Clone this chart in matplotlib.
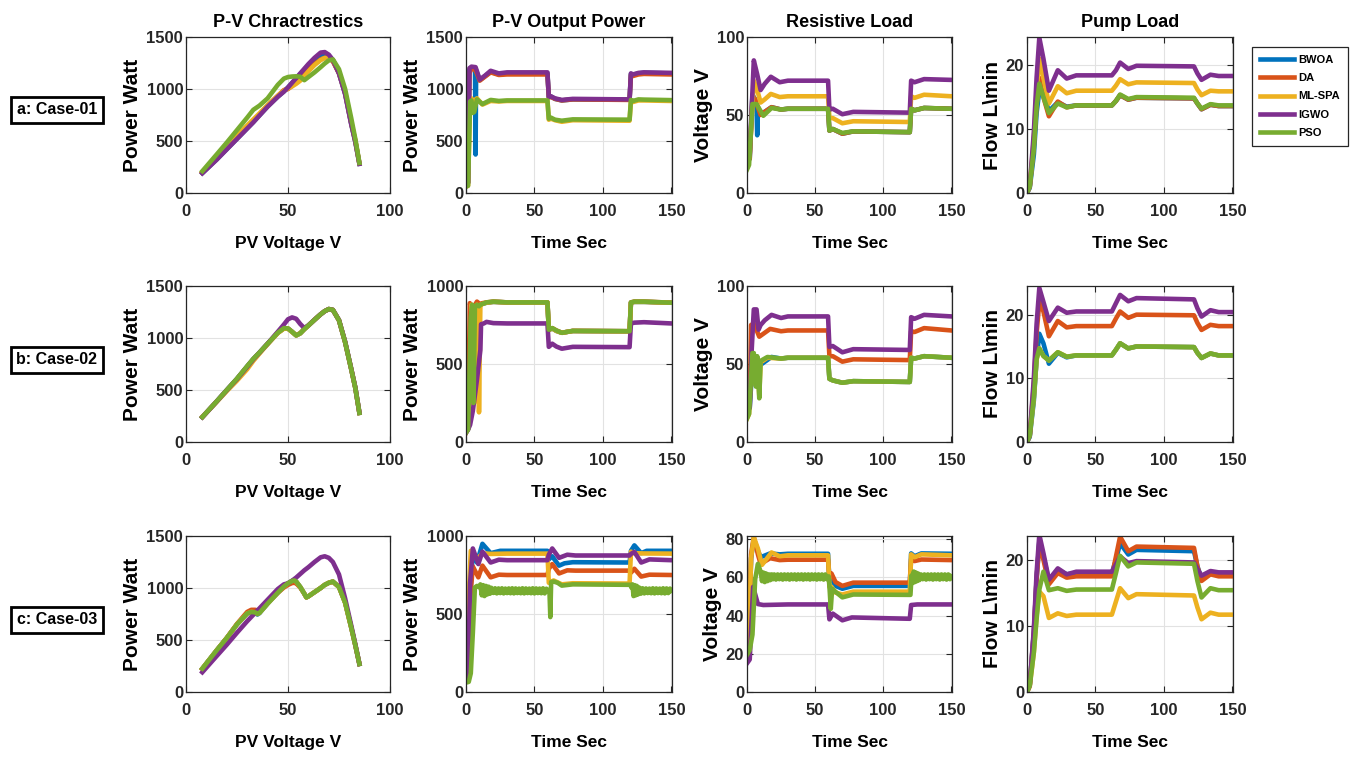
import matplotlib.pyplot as plt

plt.rcParams['font.family'] = ['Liberation Sans', 'DejaVu Sans']
plt.rcParams['font.weight'] = 'bold'
plt.rcParams['axes.labelweight'] = 'bold'
plt.rcParams['axes.titleweight'] = 'bold'

algos = ['BWOA', 'DA', 'ML-SPA', 'IGWO', 'PSO']
colors = ['#0072BD', '#D95319', '#EDB120', '#7E2F8E', '#77AC30']
cases = ['a: Case-01', 'b: Case-02', 'c: Case-03']
titles = ['P-V Chractrestics', 'P-V Output Power', 'Resistive Load', 'Pump Load']
ylabels = ['Power Watt', 'Power Watt', 'Voltage V', 'Flow L\\min']

# ---------------- P-V characteristics (voltage V -> power W) ----------------
pv1_v = [8, 15, 20, 25, 30, 33, 36, 40, 45, 48, 50, 52, 54, 56, 58, 60, 63, 66, 68, 70, 72, 75, 78, 81, 83, 85]
pv1 = {
    'BWOA':   [192, 322, 422, 522, 622, 682, 747, 832, 927, 977, 1015, 1058, 1100, 1143, 1185, 1228, 1285, 1330, 1340, 1322, 1275, 1150, 955, 665, 495, 282],
    'DA':     [195, 330, 430, 530, 630, 690, 755, 840, 935, 990, 1000, 1030, 1065, 1105, 1145, 1185, 1240, 1285, 1300, 1298, 1265, 1150, 960, 670, 500, 285],
    'ML-SPA': [200, 345, 445, 548, 650, 708, 765, 845, 935, 985, 1005, 1025, 1050, 1080, 1125, 1170, 1230, 1278, 1298, 1305, 1280, 1165, 970, 680, 505, 285],
    'IGWO':   [190, 320, 420, 520, 620, 680, 745, 830, 925, 975, 1015, 1060, 1105, 1150, 1195, 1240, 1300, 1350, 1355, 1330, 1280, 1150, 950, 660, 490, 280],
    'PSO':    [210, 370, 485, 605, 725, 800, 840, 910, 1040, 1100, 1115, 1120, 1122, 1118, 1085, 1115, 1160, 1210, 1245, 1275, 1285, 1190, 1000, 720, 520, 290],
}
pv2_v = [8, 15, 20, 25, 30, 33, 36, 40, 45, 48, 50, 52, 54, 56, 58, 60, 63, 66, 68, 70, 72, 75, 78, 81, 83, 85]
pv2 = {
    'BWOA':   [240, 390, 500, 608, 728, 798, 860, 945, 1050, 1094, 1091, 1060, 1025, 1045, 1085, 1120, 1175, 1228, 1258, 1278, 1270, 1170, 960, 700, 520, 280],
    'DA':     [240, 389, 498, 606, 725, 795, 858, 944, 1050, 1093, 1090, 1060, 1026, 1046, 1086, 1120, 1175, 1228, 1258, 1278, 1270, 1170, 960, 700, 520, 280],
    'ML-SPA': [240, 385, 490, 590, 700, 780, 850, 940, 1048, 1090, 1090, 1058, 1025, 1045, 1085, 1120, 1175, 1228, 1258, 1278, 1270, 1170, 960, 700, 520, 280],
    'IGWO':   [238, 388, 498, 605, 722, 795, 858, 945, 1060, 1130, 1180, 1198, 1185, 1135, 1095, 1122, 1176, 1228, 1258, 1278, 1270, 1172, 965, 705, 525, 282],
    'PSO':    [240, 390, 500, 610, 730, 800, 860, 945, 1050, 1095, 1092, 1060, 1025, 1045, 1085, 1120, 1175, 1228, 1258, 1278, 1270, 1170, 960, 700, 520, 280],
}
pv3_v = [8, 15, 20, 25, 30, 32, 34, 35, 36, 40, 45, 48, 50, 52, 53, 54, 56, 58, 59, 60, 63, 66, 68, 70, 72, 75, 78, 81, 83, 85]
pv3 = {
    'BWOA':   [225, 400, 520, 650, 755, 770, 760, 745, 758, 850, 955, 1015, 1045, 1068, 1073, 1062, 1010, 945, 910, 920, 960, 1000, 1030, 1050, 1062, 1010, 860, 620, 450, 270],
    'DA':     [222, 398, 520, 655, 770, 790, 790, 780, 783, 860, 955, 1005, 1030, 1048, 1050, 1045, 1005, 945, 910, 920, 960, 1000, 1030, 1050, 1060, 1010, 860, 620, 450, 270],
    'ML-SPA': [225, 400, 520, 650, 755, 770, 765, 750, 760, 850, 955, 1015, 1045, 1068, 1073, 1062, 1010, 945, 910, 920, 960, 1000, 1030, 1050, 1062, 1010, 860, 620, 450, 270],
    'IGWO':   [190, 345, 455, 570, 681, 722, 763, 784, 804, 887, 990, 1035, 1045, 1070, 1085, 1100, 1135, 1170, 1185, 1200, 1250, 1295, 1305, 1290, 1250, 1130, 900, 640, 460, 270],
    'PSO':    [225, 400, 520, 650, 755, 770, 765, 750, 760, 850, 955, 1015, 1045, 1068, 1073, 1062, 1010, 945, 910, 920, 960, 1000, 1030, 1050, 1062, 1010, 860, 620, 450, 270],
}

# ---------------- PV output power (time s, power W) ----------------
pout1 = {
    'BWOA': ([0, 1.5, 2.5, 4, 6.6, 7, 7.4, 10, 14, 18, 24, 30, 59.5, 60.5, 62, 65, 70, 78, 119.5, 120.5, 122, 126, 130, 150],
             [80, 100, 1180, 1200, 1190, 370, 1180, 1085, 1125, 1165, 1140, 1150, 1150, 920, 928, 905, 890, 900, 897, 1145, 1135, 1150, 1155, 1150]),
    'DA': ([0, 1.5, 2.5, 4, 7, 10, 14, 18, 24, 30, 59.5, 60.5, 62, 65, 70, 78, 119.5, 120.5, 122, 126, 130, 150],
           [80, 100, 1150, 1200, 1180, 1080, 1120, 1160, 1135, 1140, 1140, 920, 925, 905, 890, 900, 895, 1135, 1125, 1140, 1145, 1140]),
    'ML-SPA': ([0, 1.5, 3, 4, 5, 6, 8, 12, 18, 24, 30, 59.5, 60.5, 62, 65, 70, 78, 119.5, 120.5, 122, 126, 130, 150],
               [60, 70, 900, 910, 880, 890, 910, 850, 885, 880, 885, 885, 705, 715, 700, 685, 700, 695, 885, 875, 890, 890, 885]),
    'IGWO': ([0, 1.5, 2.5, 4, 7, 10, 14, 18, 24, 30, 59.5, 60.5, 62, 65, 70, 78, 119.5, 120.5, 122, 126, 130, 150],
             [80, 100, 1200, 1215, 1210, 1090, 1130, 1175, 1150, 1160, 1160, 925, 930, 910, 895, 905, 900, 1150, 1140, 1155, 1160, 1155]),
    'PSO': ([0, 1.5, 3, 4, 5, 6, 8, 12, 18, 24, 30, 59.5, 60.5, 62, 65, 70, 78, 119.5, 120.5, 122, 126, 130, 150],
            [60, 70, 880, 890, 770, 780, 900, 855, 895, 885, 890, 890, 715, 725, 705, 695, 708, 705, 895, 885, 900, 898, 893]),
}
pout2 = {
    'BWOA': ([0, 1.5, 3.5, 4.5, 5.5, 6.5, 8, 10, 12, 15, 20, 30, 59.5, 60.5, 63, 66, 70, 78, 119.5, 120.5, 123, 130, 150],
             [60, 80, 780, 870, 300, 850, 880, 880, 885, 893, 898, 895, 895, 718, 728, 712, 700, 712, 710, 893, 898, 898, 893]),
    'DA': ([0, 1.5, 2.8, 3.2, 4.5, 6, 8, 10, 12, 15, 20, 30, 59.5, 60.5, 63, 66, 70, 78, 119.5, 120.5, 123, 130, 150],
           [60, 100, 890, 880, 300, 870, 900, 885, 890, 895, 900, 895, 895, 720, 730, 715, 700, 712, 710, 895, 900, 900, 893]),
    'ML-SPA': ([0, 1.5, 3, 4, 5, 6, 7, 8, 9, 9.5, 10.5, 12, 15, 20, 30, 59.5, 60.5, 63, 66, 70, 78, 119.5, 120.5, 123, 130, 150],
               [60, 80, 300, 880, 860, 250, 870, 880, 760, 190, 880, 885, 893, 898, 895, 895, 718, 728, 712, 700, 712, 710, 893, 898, 898, 893]),
    'IGWO': ([0, 1.5, 3, 5, 8, 10.5, 11, 13, 15, 20, 30, 59.5, 60.5, 63, 66, 70, 78, 119.5, 120.5, 123, 130, 150],
             [60, 80, 110, 200, 400, 590, 755, 760, 770, 762, 760, 760, 610, 630, 612, 598, 610, 608, 760, 765, 768, 760]),
    'PSO': ([0, 1.5, 3.5, 4.5, 5.5, 6.5, 8, 9.5, 10.5, 12, 15, 20, 30, 59.5, 60.5, 63, 66, 70, 78, 119.5, 120.5, 123, 130, 150],
            [60, 80, 800, 880, 250, 860, 880, 870, 880, 885, 895, 900, 895, 895, 720, 730, 715, 700, 712, 710, 895, 900, 900, 893]),
}
pout3 = {
    'BWOA': ([0, 1.5, 3, 5, 8, 12, 15, 18, 25, 30, 59.5, 60.5, 63, 65, 68, 72, 78, 119.5, 120.5, 123, 126, 128, 132, 150],
             [80, 100, 600, 900, 830, 950, 920, 890, 905, 905, 905, 850, 870, 845, 810, 825, 832, 830, 905, 940, 910, 890, 905, 905]),
    'DA': ([0, 1.5, 3, 5, 9, 12, 18, 24, 30, 59.5, 60.5, 63, 68, 74, 80, 119.5, 120.5, 123, 128, 134, 150],
           [80, 100, 600, 805, 735, 810, 735, 752, 750, 750, 790, 820, 760, 780, 778, 778, 765, 790, 740, 752, 750]),
    'ML-SPA': ([0, 1.5, 2.5, 3.5, 5, 8, 12, 18, 30, 59.5, 60.5, 64, 70, 78, 119.5, 120.5, 122, 130, 150],
               [70, 90, 700, 905, 900, 850, 890, 885, 887, 887, 700, 715, 690, 697, 695, 900, 890, 888, 887]),
    'IGWO': ([0, 1.5, 3, 5, 9, 12, 18, 24, 30, 59.5, 60.5, 63, 68, 74, 80, 119.5, 120.5, 123, 128, 134, 150],
             [80, 100, 700, 920, 820, 900, 830, 848, 845, 845, 880, 920, 860, 880, 875, 875, 885, 898, 830, 850, 845]),
    'PSO': ([0, 2, 3.5, 5, 6.5, 8, 9.5, 10.5, 11.5, 12.5, 13.5, 14.5, 15.5, 16.5, 17.5, 18.5, 20,
             21.25, 22.5, 23.75, 25, 26.25, 27.5, 28.75, 30, 31.25, 32.5, 33.75, 35, 36.25, 37.5, 38.75, 40,
             41.25, 42.5, 43.75, 45, 46.25, 47.5, 48.75, 50, 51.25, 52.5, 53.75, 55, 56.25, 57.5, 58.75, 60,
             61, 61.6, 62.2, 64, 67, 70, 78, 120,
             120.8, 121.6, 122.4, 123.2, 124, 124.8, 125.6, 126.5,
             127.75, 129, 130.25, 131.5, 132.75, 134, 135.25, 136.5, 137.75, 139, 140.25, 141.5, 142.75, 144,
             145.25, 146.5, 147.75, 149, 150],
            [60, 65, 120, 380, 670, 680, 672, 690, 620, 685, 615, 680, 625, 675, 630, 668, 635,
             665, 632, 664, 634, 665, 632, 663, 634, 664, 633, 665, 632, 664, 634, 663, 633,
             665, 632, 664, 634, 663, 633, 665, 632, 664, 634, 663, 633, 665, 632, 662, 650,
             640, 480, 705, 708, 700, 682, 690, 687,
             670, 690, 615, 685, 620, 680, 625, 670,
             630, 665, 632, 664, 634, 663, 633, 665, 632, 664, 634, 663, 633, 665,
             632, 664, 634, 663, 650]),
}

# ---------------- resistive load voltage (time s, V) ----------------
vres1 = {
    'BWOA': ([0, 2, 4, 6, 7, 7.5, 8, 9, 13, 18, 25, 30, 59.5, 60.5, 63, 70, 78, 119.5, 120.5, 123, 130, 150],
             [20, 22, 63, 60, 55, 37, 55, 51, 52, 55, 53.5, 54, 54, 40, 41, 38, 39.5, 39, 54, 53, 54.5, 54]),
    'DA': ([0, 2, 4, 6, 10, 13, 18, 25, 30, 59.5, 60.5, 63, 70, 78, 119.5, 120.5, 123, 130, 150],
           [20, 22, 62, 60, 50, 52, 55, 53.5, 54, 54, 40, 41, 38, 39.5, 39, 54, 53, 54.5, 54]),
    'ML-SPA': ([0, 2, 5, 7.5, 10, 13, 17.5, 24, 30, 59.5, 60.5, 63, 70, 78, 119.5, 120.5, 123, 130, 150],
               [20, 25, 72, 66, 58, 60, 63.5, 61.5, 62, 62, 48, 48, 44.7, 46, 45.5, 62, 61, 63, 62]),
    'IGWO': ([0, 2, 5, 7.5, 10, 13, 17.5, 24, 30, 59.5, 60.5, 63, 70, 78, 119.5, 120.5, 123, 130, 150],
             [20, 25, 85, 76, 66, 70, 74.5, 71, 72, 72, 53.5, 54, 50.5, 52, 51.5, 72, 71, 73, 72.5]),
    'PSO': ([0, 1.5, 4, 7, 12, 18, 25, 30, 59.5, 60.5, 63, 70, 78, 119.5, 120.5, 123, 130, 150],
            [15, 18, 57, 57, 49.5, 54.5, 53.5, 54, 54, 40, 41, 38.5, 39.5, 39, 54, 53, 54.5, 54]),
}
vres2 = {
    'BWOA': ([0, 2, 4, 6, 10, 14, 18, 25, 30, 59.5, 60.5, 63, 70, 78, 119.5, 120.5, 123, 130, 150],
             [20, 22, 50, 55, 49.5, 52, 54.5, 53.5, 54, 54, 40.5, 39.5, 38, 39, 38.5, 54, 53.5, 55, 54]),
    'DA': ([0, 2, 3, 5, 9, 17, 25, 30, 59.5, 60.5, 63, 70, 78, 119.5, 120.5, 123, 130, 150],
           [20, 22, 75, 76, 67.5, 72.5, 71, 71.5, 71.5, 55, 55, 51.5, 53, 52.5, 71, 70.5, 73, 71.5]),
    'ML-SPA': ([0, 1.5, 3.5, 5, 6.5, 7.5, 9, 10, 15, 25, 30, 59.5, 60.5, 63, 70, 78, 119.5, 120.5, 123, 130, 150],
               [15, 18, 55, 56, 37, 54, 30, 51, 54, 53.5, 54, 54, 40.5, 39.5, 38, 39, 38.5, 54, 53.5, 55, 54]),
    'IGWO': ([0, 2, 3.5, 5, 7, 8.5, 10, 13, 18, 25, 30, 59.5, 60.5, 63, 70, 78, 119.5, 120.5, 123, 130, 150],
             [20, 22, 60, 85, 85, 72, 75, 78, 81.5, 79.5, 80.5, 80.5, 61, 61.5, 57.5, 59.5, 59, 80, 79, 81.5, 80.5]),
    'PSO': ([0, 1.5, 4, 5, 6.5, 7.5, 9, 10, 15, 25, 30, 59.5, 60.5, 63, 70, 78, 119.5, 120.5, 123, 130, 150],
            [15, 18, 57, 57, 35.5, 55, 28, 52, 54.5, 53.5, 54, 54, 40.5, 39.5, 38, 39, 38.5, 54, 53.5, 55, 54]),
}
vres3 = {
    'BWOA': ([0, 1.5, 3, 5, 8, 10, 17, 24, 30, 59.5, 60.5, 62, 65, 70, 78, 119.5, 120.5, 123, 128, 150],
             [20, 30, 70, 80, 74, 70.5, 72.5, 72, 72.3, 72.3, 58, 59, 55.5, 54, 55.5, 55.5, 72.5, 71, 72.5, 72.3]),
    'DA': ([0, 1.5, 3, 5, 8, 10, 17, 24, 30, 59.5, 60.5, 62, 65, 70, 78, 119.5, 120.5, 123, 128, 150],
           [20, 30, 72, 81, 72, 67, 70, 69, 69.2, 69.2, 60, 62, 57.5, 55.5, 57.2, 57.2, 69.5, 68.5, 69.3, 69]),
    'ML-SPA': ([0, 1.5, 3, 5, 8, 11, 18, 24, 30, 59.5, 60.5, 62, 65, 70, 78, 119.5, 120.5, 123, 128, 150],
               [25, 30, 70, 81, 75, 66.5, 73, 71, 71.5, 71.5, 55, 55, 52, 51, 52.5, 52.5, 72, 70.5, 72, 71.5]),
    'IGWO': ([0, 2, 4.5, 8, 12, 30, 59.5, 60.5, 63, 70, 77, 119.5, 120.5, 125, 150],
             [15, 17, 55, 46, 45.5, 45.8, 45.8, 38, 41, 37.5, 39, 38.3, 45.5, 45.8, 45.8]),
    'PSO': ([0, 2, 4, 6, 8, 10, 11, 12, 13, 14, 15, 16, 17, 18, 19, 20,
             21.25, 22.5, 23.75, 25, 26.25, 27.5, 28.75, 30, 31.25, 32.5, 33.75, 35, 36.25, 37.5, 38.75, 40,
             41.25, 42.5, 43.75, 45, 46.25, 47.5, 48.75, 50, 51.25, 52.5, 53.75, 55, 56.25, 57.5, 58.75, 60,
             60.8, 61.5, 62.5, 64, 70, 78, 120,
             120.8, 121.6, 122.4, 123.2, 124, 124.8, 125.6, 126.5,
             127.75, 129, 130.25, 131.5, 132.75, 134, 135.25, 136.5, 137.75, 139, 140.25, 141.5, 142.75, 144,
             145.25, 146.5, 147.75, 149, 150],
            [19.5, 22, 30, 59, 67, 63, 58, 62.5, 57.5, 62, 58, 61.5, 58.5, 61.5, 59, 61.5,
             58.8, 61.5, 59, 61.5, 58.8, 61.5, 59, 61.5, 58.8, 61.5, 59, 61.5, 58.8, 61.5, 59, 61.5,
             58.8, 61.5, 59, 61.5, 58.8, 61.5, 59, 61.5, 58.8, 61.5, 59, 61.5, 58.8, 61.5, 59, 60.5,
             52, 43.5, 54, 53, 49.5, 51, 50.8,
             61, 57, 63, 57.5, 62.5, 58, 62, 58.5,
             61.5, 59, 61.5, 58.8, 61.5, 59, 61.5, 58.8, 61.5, 59, 61.5, 58.8, 61.5, 59,
             61.5, 58.8, 61.5, 59, 60.5]),
}

# ---------------- pump load flow (time s, L/min) ----------------
flow_t = [0, 2, 5, 7, 9, 12, 16, 22.5, 29, 36, 62, 65, 68, 74, 80, 122, 124.5, 127.5, 134, 140, 150]
flow1 = {
    'BWOA':   [0, 0.8, 6, 12.5, 16, 15.5, 12.8, 14.2, 13.5, 13.7, 13.7, 14.4, 15.3, 14.6, 14.9, 14.8, 14, 13.1, 13.8, 13.6, 13.6],
    'DA':     [0, 1, 7.5, 14, 18, 15, 12, 14.3, 13.4, 13.7, 13.7, 14.4, 15.3, 14.6, 14.9, 14.8, 14, 13.1, 13.8, 13.6, 13.6],
    'ML-SPA': [0, 1, 8.5, 16, 21, 18, 14, 16.7, 15.6, 16, 16, 16.8, 17.8, 17, 17.3, 17.2, 16.2, 15.3, 16, 15.9, 15.9],
    'IGWO':   [0, 1, 9.5, 18, 24.3, 21, 16, 19.2, 17.9, 18.4, 18.4, 19.2, 20.4, 19.4, 19.9, 19.8, 18.7, 17.7, 18.5, 18.3, 18.3],
    'PSO':    [0, 1, 7, 13.5, 17.1, 15, 12.5, 14, 13.4, 13.7, 13.7, 14.4, 15.4, 14.7, 15, 14.9, 14, 13.2, 13.9, 13.7, 13.7],
}
flow2 = {
    'BWOA':   [0, 0.8, 6.5, 13, 17, 15.5, 12.3, 14, 13.3, 13.6, 13.6, 14.5, 15.5, 14.7, 15, 14.9, 14, 13.2, 13.9, 13.6, 13.6],
    'DA':     [0, 1, 9, 17, 22, 20.5, 16.6, 19, 18, 18.2, 18.2, 19.4, 20.5, 19.5, 20, 19.9, 18.7, 17.6, 18.4, 18.2, 18.2],
    'ML-SPA': [0, 1, 7, 13, 14.7, 13.5, 12.8, 14.1, 13.4, 13.6, 13.6, 14.5, 15.5, 14.7, 15, 14.9, 14, 13.2, 13.9, 13.6, 13.6],
    'IGWO':   [0, 1, 10, 18.5, 24.2, 22, 19, 21.1, 20.3, 20.5, 20.5, 21.8, 23.1, 22.1, 22.6, 22.4, 21, 19.7, 20.7, 20.4, 20.4],
    'PSO':    [0, 1, 7, 13, 14.7, 13.5, 12.8, 14.1, 13.4, 13.6, 13.6, 14.5, 15.5, 14.7, 15, 14.9, 14, 13.2, 13.9, 13.6, 13.6],
}
flow3 = {
    'BWOA':   [0, 1, 9, 17, 22.8, 20.5, 16.8, 18.5, 17.8, 18, 18, 20, 22.5, 20.8, 21.5, 21.3, 19, 17.2, 18, 17.9, 17.9],
    'DA':     [0, 1, 9, 17, 22.5, 20, 16.3, 18, 17.3, 17.5, 17.5, 20.5, 23.5, 21.3, 22, 21.8, 19, 16.8, 17.8, 17.5, 17.5],
    'ML-SPA': [0, 0.8, 6, 11.5, 15.2, 14.5, 11.2, 11.9, 11.5, 11.7, 11.7, 13.7, 15.7, 14.2, 14.8, 14.6, 12.8, 11, 12, 11.7, 11.7],
    'IGWO':   [0, 1, 9.5, 18, 23.8, 21, 17, 18.7, 17.8, 18.2, 18.2, 19.3, 20.5, 19.5, 19.8, 19.6, 18.6, 17.6, 18.3, 18.1, 18.1],
    'PSO':    [0, 1, 6, 11, 15.5, 18.2, 15.4, 15.7, 15.3, 15.5, 15.5, 18, 20.6, 19, 19.6, 19.4, 16.8, 14.3, 15.7, 15.4, 15.4],
}

pv_sets = [(pv1_v, pv1), (pv2_v, pv2), (pv3_v, pv3)]
pout_sets = [pout1, pout2, pout3]
vres_sets = [vres1, vres2, vres3]
flow_sets = [flow1, flow2, flow3]

ylims = [[(0, 1500), (0, 1500), (0, 100), (0, 24.4)],
         [(0, 1500), (0, 1000), (0, 100), (0, 24.5)],
         [(0, 1500), (0, 1000), (0, 81.6), (0, 23.6)]]
yticks = [[[0, 500, 1000, 1500], [0, 500, 1000, 1500], [0, 50, 100], [0, 10, 20]],
          [[0, 500, 1000, 1500], [0, 500, 1000], [0, 50, 100], [0, 10, 20]],
          [[0, 500, 1000, 1500], [0, 500, 1000], [0, 20, 40, 60, 80], [0, 10, 20]]]

W, H = 1352, 758
lefts = [186, 466, 747, 1027]
widths = [204, 206, 205, 206]
tops = [37, 286, 536]
ax_h = 156
case_y = [110, 360, 620]
lw = 3.3

fig = plt.figure(figsize=(W / 100, H / 100), dpi=100)

for r in range(3):
    for c in range(4):
        ax = fig.add_axes([lefts[c] / W, 1 - (tops[r] + ax_h) / H, widths[c] / W, ax_h / H])

        if c == 0:
            volts, curves = pv_sets[r]
            for name, col in zip(algos, colors):
                ax.plot(volts, curves[name], color=col, lw=lw, solid_joinstyle='round', label=name)
            ax.set_xlim(0, 100)
            ax.set_xticks([0, 50, 100])
            ax.set_xlabel('PV Voltage V', fontsize=12.5, labelpad=12)
        else:
            if c == 3:
                series = {k: (flow_t, v) for k, v in flow_sets[r].items()}
            elif c == 1:
                series = pout_sets[r]
            else:
                series = vres_sets[r]
            for name, col in zip(algos, colors):
                t, y = series[name]
                ax.plot(t, y, color=col, lw=lw, solid_joinstyle='round', label=name)
            ax.set_xlim(0, 150.5)
            ax.set_xticks([0, 50, 100, 150])
            ax.set_xlabel('Time Sec', fontsize=12.5, labelpad=12)

        ax.set_ylim(*ylims[r][c])
        ax.set_yticks(yticks[r][c])
        ax.set_ylabel(ylabels[c], fontsize=15, labelpad=3)
        if r == 0:
            ax.set_title(titles[c], fontsize=13, pad=7)

        ax.grid(True, color='#e2e2e2', lw=0.8)
        ax.set_axisbelow(True)
        ax.tick_params(direction='in', top=True, right=True, length=4, width=0.8,
                       labelsize=12, color='#262626', labelcolor='#262626')
        ax.tick_params(axis='x', pad=8)
        ax.tick_params(axis='y', pad=2)
        for s in ax.spines.values():
            s.set_color('#262626')
            s.set_linewidth(0.9)

        if r == 0 and c == 3:
            leg = ax.legend(loc='upper left', bbox_to_anchor=(1252 / W, 1 - 47 / H),
                            bbox_transform=fig.transFigure, fontsize=8, fancybox=False,
                            edgecolor='#262626', framealpha=1, handlelength=3.1,
                            handletextpad=0.4, labelspacing=0.75, borderpad=0.7, borderaxespad=0)
            leg.get_frame().set_linewidth(0.9)

    fig.text(57 / W, 1 - case_y[r] / H, cases[r], fontsize=11.5, fontweight='bold',
             ha='center', va='center',
             bbox=dict(boxstyle='square,pad=0.35', fc='white', ec='black', lw=2))

fig.savefig('out.png', dpi=100)
